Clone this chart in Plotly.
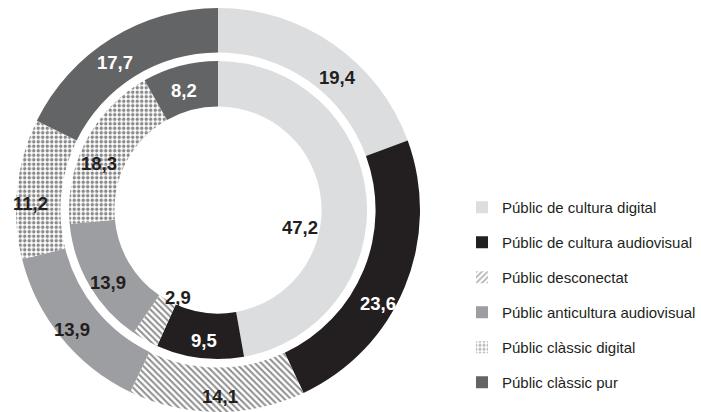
import math
import plotly.graph_objects as go

categories = [
    "Públic de cultura digital",
    "Públic de cultura audiovisual",
    "Públic desconectat",
    "Públic anticultura audiovisual",
    "Públic clàssic digital",
    "Públic clàssic pur",
]
outer_values = [19.4, 23.6, 14.1, 13.9, 11.2, 17.7]
inner_values = [47.2, 9.5, 2.9, 13.9, 18.3, 8.2]
outer_labels = ["19,4", "23,6", "14,1", "13,9", "11,2", "17,7"]
inner_labels = ["47,2", "9,5", "2,9", "13,9", "18,3", "8,2"]

W, H = 701, 412
DARK = "#231f20"
slice_colors = ["#dcdddf", "#231f20", "#ffffff", "#9d9ea1", "#ffffff", "#636466"]
pat_shapes = ["", "", "\\", "", ".", ""]
legend_shapes = ["", "", "/", "", ".", ""]
pat_fg = ["#dcdddf", "#231f20", "#8e8e8e", "#9d9ea1", "#8a8a8a", "#636466"]
text_colors = [DARK, "#ffffff", DARK, DARK, DARK, "#ffffff"]

CX, CY = 218, 210          # centre in px
R_OUT, HOLE_OUT = 202, 0.78
R_IN, HOLE_IN = 149, 0.695

# label placement: (angle nudge from slice middle in degrees, radius in px)
outer_place = [(7, 178), (8, 185), (-1, 187), (0, 189), (-4, 188), (-3, 180)]
inner_place = [(17, 84), (-1, 131), (-5, 96), (-3, 132), (-6, 128), (-1, 124)]

def dom(r):
    return dict(x=[(CX - r) / W, (CX + r) / W], y=[1 - (CY + r) / H, 1 - (CY - r) / H])

FONT = "Liberation Sans, Arial, Helvetica, sans-serif"

fig = go.Figure()
for vals, r, hole in [(outer_values, R_OUT, HOLE_OUT), (inner_values, R_IN, HOLE_IN)]:
    fig.add_trace(go.Pie(
        values=vals, labels=categories, textinfo="none",
        sort=False, direction="clockwise", rotation=0, hole=hole, domain=dom(r),
        marker=dict(colors=slice_colors, line=dict(width=0),
                    pattern=dict(shape=pat_shapes, fgcolor=pat_fg, bgcolor="#ffffff",
                                 size=4.5, solidity=0.45)),
        showlegend=False, hoverinfo="label+value",
    ))

annotations = []
for vals, labels, place in [(outer_values, outer_labels, outer_place),
                            (inner_values, inner_labels, inner_place)]:
    total = sum(vals)
    cum = 0
    for i, v in enumerate(vals):
        mid = (cum + v / 2) / total * 360
        cum += v
        off, rr = place[i]
        a = math.radians(mid + off)
        px = CX + rr * math.sin(a)
        py = CY - rr * math.cos(a)
        col = text_colors[i]
        if labels is inner_labels and i == 2:
            col = DARK
        annotations.append(dict(x=px / W, y=1 - py / H, xref="paper", yref="paper",
                                xanchor="center", yanchor="middle",
                                text="<b>%s</b>" % labels[i], showarrow=False,
                                font=dict(color=col, family=FONT, size=18.5)))

# legend entries
for i, c in enumerate(categories):
    fig.add_trace(go.Bar(
        x=[0], y=[0], name=c, legendgroup=c,
        marker=dict(color=slice_colors[i], line=dict(width=0),
                    pattern=dict(shape=legend_shapes[i], fgcolor="#6a6a6a", bgcolor="#ffffff",
                                 size=5, solidity=0.45)),
        hoverinfo="skip",
    ))

fig.update_layout(
    width=W, height=H, margin=dict(l=0, r=0, t=0, b=0),
    paper_bgcolor="#ffffff", plot_bgcolor="#ffffff",
    xaxis=dict(visible=False, domain=[0.99, 1.0]),
    yaxis=dict(visible=False, domain=[0.99, 1.0]),
    annotations=annotations,
    legend=dict(x=462 / W, xanchor="left", y=1 - 191 / H, yanchor="top",
                font=dict(family=FONT, size=15, color=DARK),
                tracegroupgap=12.5, bgcolor="rgba(0,0,0,0)"),
)

fig.write_html("out.html", config={"displayModeBar": False},
               post_script="document.body.style.margin='0px';document.body.style.padding='0px';")
